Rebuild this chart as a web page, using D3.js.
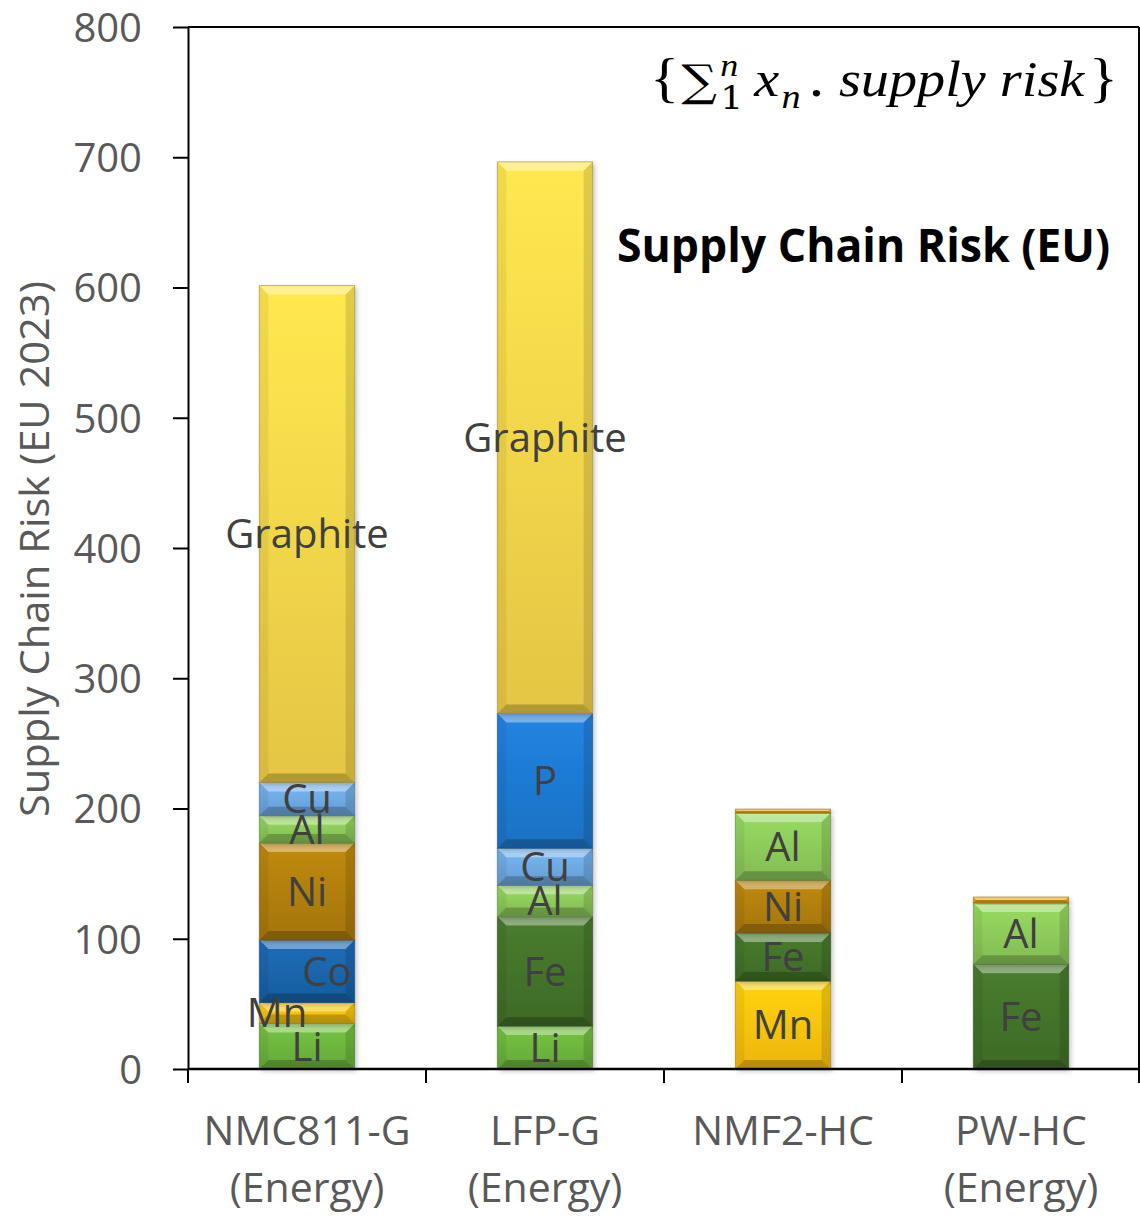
<!DOCTYPE html>
<html>
<head>
<meta charset="utf-8">
<script src="https://cdn.jsdelivr.net/npm/d3@7/dist/d3.min.js"></script>
<style>
  html, body { margin: 0; padding: 0; background: #fff; }
  svg { display: block; }
</style>
</head>
<body>
<svg id="chart" width="1140" height="1216"></svg>
<script>
// ---------------- DATA ----------------
const categories = ["NMC811-G", "LFP-G", "NMF2-HC", "PW-HC"];
const categorySub = ["(Energy)", "(Energy)", "", "(Energy)"];
const elements = ["Li", "Mn", "Fe", "Co", "Ni", "Al", "Cu", "P", "Graphite", "HC"];
const liValues       = [35,    33,    0,    0];
const mnValues       = [16,    0,     67.5, 0];
const feValues       = [0,     84,    37,   80.5];
const coValues       = [48,    0,     0,    0];
const niValues       = [74.5,  0,     40.5, 0];
const alValues       = [21,    24,    51.5, 47];
const cuValues       = [25.5,  28.5,  0,    0];
const pValues        = [0,     103.5, 0,    0];
const graphiteValues = [381.5, 423.5, 0,    0];
const hcValues       = [0,     0,     3,    4.5];
const yTicks = [0, 100, 200, 300, 400, 500, 600, 700, 800];
const yTitle = "Supply Chain Risk (EU 2023)";
const chartTitle = "Supply Chain Risk (EU)";

// ---------------- STYLE ----------------
const colors = {
  Li: "#6cb43c", Mn: "#ffc20a", Fe: "#43722a", Co: "#1a64aa", Ni: "#b07e0c",
  Al: "#8cc95a", Cu: "#6ea8e0", P: "#1e79d0", Graphite: "#f6d449", HC: "#e9a514"
};
const labelShift = { "NMC811-G|Co": 20, "NMC811-G|Mn": -30 };
const unlabeled = new Set(["HC"]);

const L = 188, R = 1139, T = 27, B = 1069;

const seriesValues = {
  Li: liValues, Mn: mnValues, Fe: feValues, Co: coValues, Ni: niValues,
  Al: alValues, Cu: cuValues, P: pValues, Graphite: graphiteValues, HC: hcValues
};
const table = categories.map((c, i) => {
  const row = { cat: c };
  elements.forEach(e => row[e] = seriesValues[e][i]);
  return row;
});

const svg = d3.select("#chart");
const defs = svg.append("defs");

elements.forEach(e => {
  const c = d3.color(colors[e]);
  const g = defs.append("linearGradient").attr("id", "g-" + e)
    .attr("x1", 0).attr("y1", 0).attr("x2", 0).attr("y2", 1);
  g.append("stop").attr("offset", "0%").attr("stop-color", c.brighter(0.25));
  g.append("stop").attr("offset", "100%").attr("stop-color", c.darker(0.2));
});
const f = defs.append("filter").attr("id", "shadow")
  .attr("x", "-20%").attr("y", "-20%").attr("width", "140%").attr("height", "140%");
f.append("feDropShadow").attr("dx", 2).attr("dy", 2).attr("stdDeviation", 2.5)
  .attr("flood-color", "#000").attr("flood-opacity", 0.25);

const x = d3.scaleBand().domain(categories).range([L, 1140])
  .paddingInner(0.6).paddingOuter(0.3);
const y = d3.scaleLinear().domain([0, 800]).range([B, T]);

const series = d3.stack().keys(elements)(table);

// frame (top and right)
svg.append("line").attr("x1", L).attr("x2", R).attr("y1", y(800)).attr("y2", y(800))
  .attr("stroke", "#000").attr("stroke-width", 2);
svg.append("line").attr("x1", R).attr("x2", R).attr("y1", y(800)).attr("y2", y(0))
  .attr("stroke", "#000").attr("stroke-width", 2);

// bars
const barG = svg.append("g");
series.forEach(s => {
  const key = s.key;
  s.forEach((d, i) => {
    const v = d[1] - d[0];
    if (v <= 0) return;
    const cat = categories[i];
    const x0 = x(cat), x1 = x(cat) + x.bandwidth();
    const y0 = y(d[1]), y1 = y(d[0]);
    const h = y1 - y0, w = x1 - x0;
    const g = barG.append("g");
    g.append("rect").attr("x", x0).attr("y", y0).attr("width", w).attr("height", h)
      .attr("fill", `url(#g-${key})`).attr("filter", "url(#shadow)");
    const b = Math.min(9, h / 2, w / 2);
    const poly = (pts, fill, op) => g.append("polygon")
      .attr("points", pts.map(p => p.join(",")).join(" "))
      .attr("fill", fill).attr("fill-opacity", op);
    poly([[x0, y0], [x1, y0], [x1 - b, y0 + b], [x0 + b, y0 + b]], "#fff", 0.38);
    poly([[x0, y0], [x0 + b, y0 + b], [x0 + b, y1 - b], [x0, y1]], "#000", 0.06);
    poly([[x1, y0], [x1 - b, y0 + b], [x1 - b, y1 - b], [x1, y1]], "#000", 0.12);
    poly([[x0, y1], [x1, y1], [x1 - b, y1 - b], [x0 + b, y1 - b]], "#000", 0.22);
    g.append("rect").attr("x", x0).attr("y", y0).attr("width", w).attr("height", h)
      .attr("fill", "none").attr("stroke", d3.color(colors[key]).darker(1.2))
      .attr("stroke-opacity", 0.6).attr("stroke-width", 1);
  });
});

// segment labels
const labG = svg.append("g")
  .attr("font-family", "'Open Sans', sans-serif").attr("font-size", 40)
  .attr("fill", "#404040").attr("text-anchor", "middle");
series.forEach(s => {
  if (unlabeled.has(s.key)) return;
  s.forEach((d, i) => {
    const v = d[1] - d[0];
    if (v <= 0) return;
    const cat = categories[i];
    const dx = labelShift[cat + "|" + s.key] || 0;
    labG.append("text")
      .attr("x", x(cat) + x.bandwidth() / 2 + dx)
      .attr("y", y((d[0] + d[1]) / 2))
      .attr("dy", "0.36em")
      .text(s.key);
  });
});

// y axis
const yAxis = d3.axisLeft(y).tickValues(yTicks).tickSize(15).tickPadding(31).tickSizeOuter(0);
const yg = svg.append("g").attr("transform", `translate(${L},0)`).call(yAxis);
yg.select(".domain").attr("stroke", "#000").attr("stroke-width", 2);
yg.selectAll(".tick line").attr("stroke", "#000").attr("stroke-width", 2);
yg.selectAll(".tick text").attr("font-family", "'Open Sans', sans-serif")
  .attr("font-size", 40).attr("fill", "#595959").attr("dy", "0.36em");

// x axis
svg.append("line").attr("x1", L).attr("x2", R).attr("y1", y(0)).attr("y2", y(0))
  .attr("stroke", "#000").attr("stroke-width", 2.5);
const bounds = [x(categories[0]) + x.bandwidth() / 2 - x.step() / 2]
  .concat(categories.map(c => x(c) + x.bandwidth() / 2 + x.step() / 2));
svg.append("g").selectAll("line").data(bounds).join("line")
  .attr("x1", d => Math.min(d, R)).attr("x2", d => Math.min(d, R))
  .attr("y1", y(0)).attr("y2", y(0) + 14)
  .attr("stroke", "#000").attr("stroke-width", 2);

const xl = svg.append("g").attr("font-family", "'Open Sans', sans-serif")
  .attr("font-size", 41).attr("fill", "#595959").attr("text-anchor", "middle");
categories.forEach((c, i) => {
  const cx = x(c) + x.bandwidth() / 2;
  xl.append("text").attr("x", cx).attr("y", 1145).text(c);
  if (categorySub[i]) xl.append("text").attr("x", cx).attr("y", 1202).text(categorySub[i]);
});

// y title
svg.append("text")
  .attr("transform", `translate(49,549) rotate(-90)`)
  .attr("text-anchor", "middle")
  .attr("font-family", "'Open Sans', sans-serif").attr("font-size", 40)
  .attr("textLength", 536).attr("lengthAdjust", "spacingAndGlyphs")
  .attr("fill", "#595959").text(yTitle);

// chart title
svg.append("text")
  .attr("x", 1110).attr("y", 262).attr("text-anchor", "end")
  .attr("font-family", "'Open Sans', sans-serif").attr("font-weight", "bold")
  .attr("font-size", 46).attr("fill", "#000")
  .attr("textLength", 493).attr("lengthAdjust", "spacingAndGlyphs")
  .text(chartTitle);

// formula
const fOuter = svg.append("g");
const fg = fOuter.append("g").attr("font-family", "'Liberation Serif', serif").attr("fill", "#000");
let cx = 0;
function piece(txt, opts) {
  const t = fg.append("text").attr("x", cx + (opts.dx || 0)).attr("y", opts.dy || 0)
    .attr("font-size", opts.size || 48)
    .attr("font-style", opts.italic ? "italic" : "normal")
    .attr("font-family", opts.family || null)
    .text(txt);
  const w = t.node().getComputedTextLength();
  if (!opts.noAdvance) cx += w + (opts.dx || 0);
  return w;
}
piece("{", { size: 54 });
piece("∑", { size: 44, dx: 2, family: "'DejaVu Serif', serif" });
const w1 = piece("n", { italic: true, size: 32, dy: -20, dx: 3, noAdvance: true });
const w2 = piece("1", { size: 32, dy: 13, dx: 3, family: "'DejaVu Serif', serif" });
cx += Math.max(0, w1 - w2);
piece("x", { italic: true, size: 50, dx: 10 });
piece("n", { italic: true, size: 34, dy: 12, dx: 2 });
piece(".", { size: 50, dx: 6, family: "'DejaVu Serif', serif" });
piece("supply risk", { italic: true, size: 50, dx: 12 });
piece("}", { size: 54, dx: 4 });
const fb = fg.node().getBBox();
const targetW = 468;
const sx = targetW / fb.width;
fg.attr("transform", `translate(${-fb.x},0)`);
fOuter.attr("transform", `translate(${1118 - targetW},96) scale(${sx},1)`);
</script>
</body>
</html>
